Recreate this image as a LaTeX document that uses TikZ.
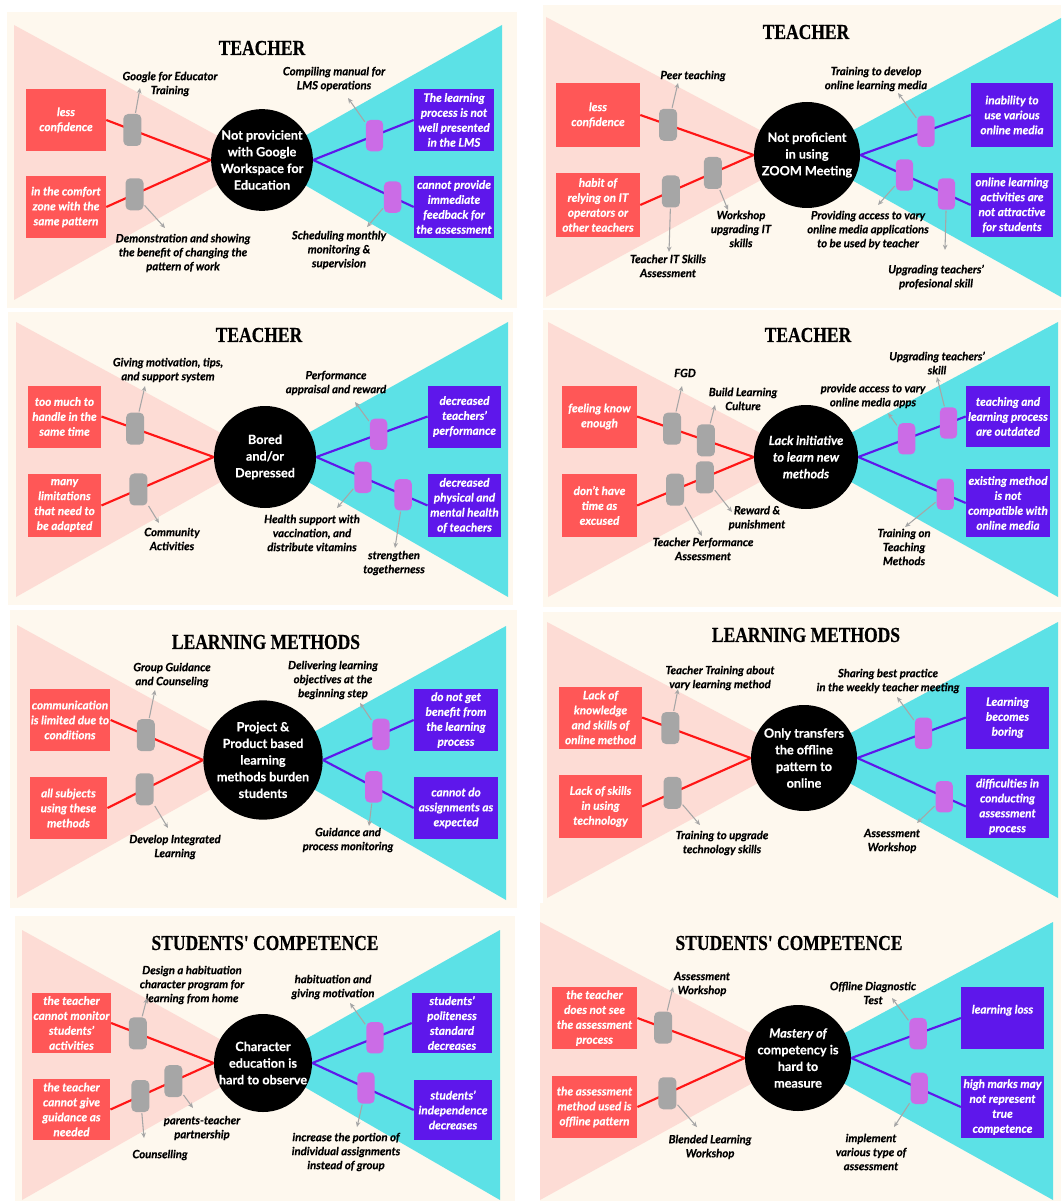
\documentclass[tikz,border=0pt]{standalone}
\usepackage{fontspec}
\setmainfont{Lato}[BoldFeatures={FakeBold=0.4}, BoldItalicFeatures={FakeBold=0.4}]
\newfontfamily\titlefont[FakeStretch=0.82, FakeBold=0.5]{Liberation Serif}
\usetikzlibrary{arrows.meta}

\definecolor{cream}{HTML}{FEF8EE}
\definecolor{pinkzone}{HTML}{FDDCD5}
\definecolor{cyanzone}{HTML}{5CE1E6}
\definecolor{causered}{HTML}{FF5757}
\definecolor{linered}{HTML}{FF1616}
\definecolor{effectviolet}{HTML}{5E17EB}
\definecolor{pillgray}{HTML}{A6A6A6}
\definecolor{pillmauve}{HTML}{CB6CE6}

\newcommand\hubtext{\fontsize{9.5}{12.5}\selectfont\bfseries}
\newcommand\boxtext{\fontsize{8.8}{11.2}\selectfont\bfseries\itshape}
\newcommand\hinttext{\fontsize{8.5}{10.5}\selectfont\bfseries\itshape}

\tikzset{
  panel/.style={fill=cream},
  causezone/.style={fill=pinkzone},
  effectzone/.style={fill=cyanzone},
  heading/.style={font=\titlefont\bfseries\fontsize{16}{18}\selectfont, inner sep=0pt},
  problem/.style={circle, fill=black, text=white, minimum size=76pt, inner sep=0pt, align=center, font=\hubtext},
  cause/.style={fill=causered, text=white, minimum width=60pt, minimum height=46.5pt, inner sep=1pt, align=center, font=\boxtext},
  effect/.style={cause, fill=effectviolet},
  causeline/.style={draw=linered, line width=1.6pt},
  effectline/.style={draw=effectviolet, line width=1.6pt},
  fixgray/.style={rectangle, rounded corners=3.5pt, fill=pillgray, minimum width=13.5pt, minimum height=24pt, inner sep=0pt},
  fixmauve/.style={fixgray, fill=pillmauve, minimum width=13pt, minimum height=23.5pt},
  remedy/.style={font=\hinttext, align=center, inner sep=1pt},
  pointer/.style={draw=pillgray, line width=0.8pt, -{Stealth[length=4pt,width=3.5pt]}},
}

\begin{document}
\begin{tikzpicture}[x=0.75pt, y=-0.75pt]
\useasboundingbox (0,0) rectangle (1061,1201);
\fill[white] (0,0) rectangle (1061,1201);

% --- panel a: teacher, Google Workspace
\fill[panel] (7,12) rectangle (517,308);
\coordinate (a-o) at (262,160);
\fill[causezone] (14,25) -- (14,300) -- (a-o) -- cycle;
\fill[effectzone] (502,25) -- (502,300) -- (a-o) -- cycle;
\node[heading] (a-title) at (262,48) {TEACHER};
\node[cause] (a-c1) at (66,120) {less\\confidence};
\node[cause] (a-c2) at (66,207) {in the comfort\\zone with the\\same pattern};
\node[effect] (a-e1) at (454,120) {The learning\\process is not\\well presented\\in the LMS};
\node[effect] (a-e2) at (454,207) {cannot provide\\immediate\\feedback for\\the assessment};
\node[problem, minimum size=75pt] (a-hub) at (a-o) {Not provicient\\with Google\\Workspace for\\Education};
\draw[causeline] (a-c1.east) -- node[fixgray, pos=0.25] (a-g1) {} (a-hub.west);
\draw[causeline] (a-c2.east) -- node[fixgray, pos=0.27] (a-g2) {} (a-hub.west);
\draw[effectline] (a-hub.east) -- node[fixmauve, pos=0.61] (a-m1) {} (a-e1.west);
\draw[effectline] (a-hub.east) -- node[fixmauve, pos=0.79] (a-m2) {} (a-e2.west);
\node[remedy] (a-l1) at (170,84) {Google for Educator\\Training};
\node[remedy] (a-l2) at (183,253) {Demonstration and showing\\the benefit of changing the\\pattern of work};
\node[remedy] (a-l3) at (334,79) {Compiling manual for\\LMS operations};
\node[remedy] (a-l4) at (339,250) {Scheduling monthly\\monitoring \&\\supervision};
\coordinate (a-t1) at (140,88);
\coordinate (a-t2) at (165,228);
\coordinate (a-t3) at (348,98);
\coordinate (a-t4) at (367,227);
\draw[pointer] (a-g1) -- (a-t1);
\draw[pointer] (a-g2) -- (a-t2);
\draw[pointer] (a-m1) -- (a-t3);
\draw[pointer] (a-m2) -- (a-t4);

% --- panel b: teacher, ZOOM
\fill[panel] (543,5) rectangle (1061,308);
\coordinate (b-o) at (807,155);
\fill[causezone] (546,17) -- (546,297) -- (b-o) -- cycle;
\fill[effectzone] (1061,18) -- (1061,297) -- (b-o) -- cycle;
\node[heading] (b-title) at (806,32) {TEACHER};
\node[cause, minimum width=63pt, minimum height=48pt] (b-c1) at (598,115) {less\\confidence};
\node[cause, minimum width=63pt, minimum height=48pt] (b-c2) at (598,205) {habit of\\relying on IT\\operators or\\other teachers};
\node[effect, minimum width=61.5pt, minimum height=48pt] (b-e1) at (1012,115) {inability to\\use various\\online media};
\node[effect, minimum width=61.5pt, minimum height=48pt] (b-e2) at (1012,205) {online learning\\activities are\\not attractive\\for students};
\node[problem, minimum size=79.5pt] (b-hub) at (b-o) {Not proficient\\in using\\ZOOM Meeting};
\draw[causeline] (b-c1.east) -- node[fixgray, pos=0.245] (b-g1) {} (b-hub.west);
\draw[causeline] (b-c2.east) -- node[fixgray, pos=0.27] (b-g2) {} node[fixgray, pos=0.64] (b-g3) {} (b-hub.west);
\draw[effectline] (b-hub.east) -- node[fixmauve, pos=0.595] (b-m1) {} (b-e1.west);
\draw[effectline] (b-hub.east) -- node[fixmauve, pos=0.4] (b-m2) {} node[fixmauve, pos=0.78] (b-m3) {} (b-e2.west);
\node[remedy] (b-l1) at (693,76) {Peer teaching};
\node[remedy] (b-l2) at (668,266) {Teacher IT Skills\\Assessment};
\node[remedy] (b-l3) at (741,229) {Workshop\\upgrading IT\\skills};
\node[remedy] (b-l4) at (876,79) {Training to develop\\online learning media};
\node[remedy] (b-l5) at (868,230) {Providing access to vary\\online media applications\\to be used by teacher};
\node[remedy] (b-l6) at (936,277) {Upgrading teachers'\\profesional skill};
\coordinate (b-t1) at (678,83);
\coordinate (b-t2) at (669,252);
\coordinate (b-t3) at (728,210);
\coordinate (b-t4) at (898,93);
\coordinate (b-t5) at (878,205);
\coordinate (b-t6) at (945,250);
\draw[pointer] (b-g1) -- (b-t1);
\draw[pointer] (b-g2) -- (b-t2);
\draw[pointer] (b-g3) -- (b-t3);
\draw[pointer] (b-m1) -- (b-t4);
\draw[pointer] (b-m2) -- (b-t5);
\draw[pointer] (b-m3) -- (b-t6);

% --- panel c: teacher, bored
\fill[panel] (8,312) rectangle (513,605);
\coordinate (c-o) at (265,457);
\fill[causezone] (16,322) -- (16,597) -- (c-o) -- cycle;
\fill[effectzone] (508,322) -- (508,597) -- (c-o) -- cycle;
\node[heading] (c-title) at (259,335) {TEACHER};
\node[cause, minimum width=55pt] (c-c1) at (64.5,416.5) {too much to\\handle in the\\same time};
\node[cause, minimum width=55pt, minimum height=47pt] (c-c2) at (64.5,505.5) {many\\limitations\\that need to\\be adapted};
\node[effect, minimum width=55pt] (c-e1) at (464.5,416.5) {decreased\\teachers'\\performance};
\node[effect, minimum width=55pt, minimum height=47pt] (c-e2) at (464.5,505.5) {decreased\\physical and\\mental health\\of teachers};
\node[problem, minimum size=76.5pt] (c-hub) at (c-o) {Bored\\and/or\\Depressed};
\draw[causeline] (c-c1.east) -- node[fixgray, pos=0.3] (c-g1) {} (c-hub.west);
\draw[causeline] (c-c2.east) -- node[fixgray, pos=0.33] (c-g2) {} (c-hub.west);
\draw[effectline] (c-hub.east) -- node[fixmauve, pos=0.56] (c-m1) {} (c-e1.west);
\draw[effectline] (c-hub.east) -- node[fixmauve, pos=0.42] (c-m2) {} node[fixmauve, pos=0.78] (c-m3) {} (c-e2.west);
\node[remedy] (c-l1) at (168,370) {Giving motivation, tips,\\and support system};
\node[remedy] (c-l2) at (172,539) {Community\\Activities};
\node[remedy] (c-l3) at (336,383) {Performance\\appraisal and reward};
\node[remedy] (c-l4) at (312,533) {Health support with\\vaccination, and\\distribute vitamins};
\node[remedy] (c-l5) at (394,563) {strengthen\\togetherness};
\coordinate (c-t1) at (145,386);
\coordinate (c-t2) at (159,523);
\coordinate (c-t3) at (355,402);
\coordinate (c-t4) at (337,508);
\coordinate (c-t5) at (395,548);
\draw[pointer] (c-g1) -- (c-t1);
\draw[pointer] (c-g2) -- (c-t2);
\draw[pointer] (c-m1) -- (c-t3);
\draw[pointer] (c-m2) -- (c-t4);
\draw[pointer] (c-m3) -- (c-t5);

% --- panel d: teacher, initiative
\fill[panel] (543,310) rectangle (1061,607);
\coordinate (d-o) at (806,457);
\fill[causezone] (548,322) -- (548,597) -- (d-o) -- cycle;
\fill[effectzone] (1058,322) -- (1058,597) -- (d-o) -- cycle;
\node[heading] (d-title) at (808,335) {TEACHER};
\node[cause, minimum width=56pt] (d-c1) at (599.5,416.5) {feeling know\\enough};
\node[cause, minimum width=56pt, minimum height=47pt] (d-c2) at (599.5,505.5) {don't have\\time as\\excused};
\node[effect, minimum width=63pt, minimum height=46pt] (d-e1) at (1008,416.5) {teaching and\\learning process\\are outdated};
\node[effect, minimum width=63pt, minimum height=51pt] (d-e2) at (1008,503) {existing method\\is not\\compatible with\\online media};
\node[problem, minimum size=78pt] (d-hub) at (d-o) {\itshape Lack initiative\\\itshape to learn new\\\itshape methods};
\draw[causeline] (d-c1.east) -- node[fixgray, pos=0.3] (d-g1) {} node[fixgray, pos=0.59] (d-g2) {} (d-hub.west);
\draw[causeline] (d-c2.east) -- node[fixgray, pos=0.325] (d-g3) {} node[fixgray, pos=0.58] (d-g4) {} (d-hub.west);
\draw[effectline] (d-hub.east) -- node[fixmauve, pos=0.45] (d-m1) {} node[fixmauve, pos=0.84] (d-m2) {} (d-e1.west);
\draw[effectline] (d-hub.east) -- node[fixmauve, pos=0.81] (d-m3) {} (d-e2.west);
\node[remedy] (d-l1) at (685,373) {FGD};
\node[remedy] (d-l2) at (743,399) {Build Learning\\Culture};
\node[remedy] (d-l3) at (757,518) {Reward \&\\punishment};
\node[remedy] (d-l4) at (703,549) {Teacher Performance\\Assessment};
\node[remedy] (d-l5) at (873,396) {provide access to vary\\online media apps};
\node[remedy] (d-l6) at (937,363) {Upgrading teachers'\\skill};
\node[remedy] (d-l7) at (904,547) {Training on\\Teaching\\Methods};
\coordinate (d-t1) at (682,386);
\coordinate (d-t2) at (715,405);
\coordinate (d-t3) at (732,512);
\coordinate (d-t4) at (702,536);
\coordinate (d-t5) at (888,413);
\coordinate (d-t6) at (937,377);
\coordinate (d-t7) at (905,527);
\draw[pointer] (d-g1) -- (d-t1);
\draw[pointer] (d-g2) -- (d-t2);
\draw[pointer] (d-g4) -- (d-t3);
\draw[pointer] (d-g3) -- (d-t4);
\draw[pointer] (d-m1) -- (d-t5);
\draw[pointer] (d-m2) -- (d-t6);
\draw[pointer] (d-m3) -- (d-t7);

% --- panel e: learning methods, project based
\fill[panel] (10,610) rectangle (517,908);
\coordinate (e-o) at (263,760);
\fill[causezone] (17,625) -- (17,898) -- (e-o) -- cycle;
\fill[effectzone] (506,626) -- (506,900) -- (e-o) -- cycle;
\node[heading] (e-title) at (266,642) {LEARNING METHODS};
\node[cause] (e-c1) at (70,720) {communication\\is limited due to\\conditions};
\node[cause, minimum width=58pt] (e-c2) at (68.5,808) {all subjects\\using these\\methods};
\node[effect, minimum width=63pt] (e-e1) at (456,720) {do not get\\benefit from\\the learning\\process};
\node[effect, minimum width=63pt] (e-e2) at (456,808) {cannot do\\assignments as\\expected};
\node[problem, minimum size=76.5pt] (e-hub) at (e-o) {Project \&\\Product based\\learning\\methods burden\\students};
\draw[causeline] (e-c1.east) -- node[fixgray, pos=0.38] (e-g1) {} (e-hub.west);
\draw[causeline] (e-c2.east) -- node[fixgray, pos=0.39] (e-g2) {} (e-hub.west);
\draw[effectline] (e-hub.east) -- node[fixmauve, pos=0.64] (e-m1) {} (e-e1.west);
\draw[effectline] (e-hub.east) -- node[fixmauve, pos=0.56] (e-m2) {} (e-e2.west);
\node[remedy] (e-l1) at (172,675) {Group Guidance\\and Counseling};
\node[remedy] (e-l2) at (175,847) {Develop Integrated\\Learning};
\node[remedy] (e-l3) at (333,680) {Delivering learning\\objectives at the\\beginning step};
\node[remedy] (e-l4) at (348,840) {Guidance and\\process monitoring};
\coordinate (e-t1) at (155,690);
\coordinate (e-t2) at (168,828);
\coordinate (e-t3) at (360,703);
\coordinate (e-t4) at (369,826);
\draw[pointer] (e-g1) -- (e-t1);
\draw[pointer] (e-g2) -- (e-t2);
\draw[pointer] (e-m1) -- (e-t3);
\draw[pointer] (e-m2) -- (e-t4);

% --- panel f: learning methods, offline pattern
\fill[panel] (543,612) rectangle (1061,903);
\coordinate (f-o) at (804,758);
\fill[causezone] (547,622) -- (547,898) -- (f-o) -- cycle;
\fill[effectzone] (1058,622) -- (1058,898) -- (f-o) -- cycle;
\node[heading] (f-title) at (806,635) {LEARNING METHODS};
\node[cause, minimum width=62pt] (f-c1) at (600.5,717.5) {Lack of\\knowledge\\and skills of\\online method};
\node[cause, minimum width=62pt, minimum height=47pt] (f-c2) at (600.5,806.5) {Lack of skills\\in using\\technology};
\node[effect, minimum width=62pt] (f-e1) at (1007.5,717.5) {Learning\\becomes\\boring};
\node[effect, minimum width=62pt, minimum height=47pt] (f-e2) at (1007.5,806.5) {difficulties in\\conducting\\assessment\\process};
\node[problem, minimum size=79.5pt] (f-hub) at (f-o) {Only transfers\\the offline\\pattern to\\online};
\draw[causeline] (f-c1.east) -- node[fixgray, pos=0.26] (f-g1) {} (f-hub.west);
\draw[causeline] (f-c2.east) -- node[fixgray, pos=0.28] (f-g2) {} (f-hub.west);
\draw[effectline] (f-hub.east) -- node[fixmauve, pos=0.61] (f-m1) {} (f-e1.west);
\draw[effectline] (f-hub.east) -- node[fixmauve, pos=0.8] (f-m2) {} (f-e2.west);
\node[remedy] (f-l1) at (720,678) {Teacher Training about\\vary learning method};
\node[remedy] (f-l2) at (722,843) {Training to upgrade\\technology skills};
\node[remedy] (f-l3) at (888,681) {Sharing best practice\\in the weekly teacher meeting};
\node[remedy] (f-l4) at (892,841) {Assessment\\Workshop};
\coordinate (f-t1) at (678,689);
\coordinate (f-t2) at (700,825);
\coordinate (f-t3) at (897,697);
\coordinate (f-t4) at (917,823);
\draw[pointer] (f-g1) -- (f-t1);
\draw[pointer] (f-g2) -- (f-t2);
\draw[pointer] (f-m1) -- (f-t3);
\draw[pointer] (f-m2) -- (f-t4);

% --- panel g: students' competence, character
\fill[panel] (15,916) rectangle (515,1201);
\coordinate (g-o) at (263,1063);
\fill[causezone] (22,930) -- (22,1200) -- (g-o) -- cycle;
\fill[effectzone] (500,930) -- (500,1200) -- (g-o) -- cycle;
\node[heading] (g-title) at (265,943) {STUDENTS' COMPETENCE};
\node[cause, minimum width=58pt, minimum height=45pt] (g-c1) at (71.5,1023) {the teacher\\cannot monitor\\students'\\activities};
\node[cause, minimum width=58pt, minimum height=45.5pt] (g-c2) at (71.5,1109.5) {the teacher\\cannot give\\guidance as\\needed};
\node[effect, minimum width=60pt, minimum height=45pt] (g-e1) at (452,1023) {students'\\politeness\\standard\\decreases};
\node[effect, minimum width=58.5pt, minimum height=45pt] (g-e2) at (453,1110) {students'\\independence\\decreases};
\node[problem, minimum size=73.5pt] (g-hub) at (g-o) {Character\\education is\\hard to observe};
\draw[causeline] (g-c1.east) -- node[fixgray, pos=0.26] (g-g1) {} (g-hub.west);
\draw[causeline] (g-c2.east) -- node[fixgray, pos=0.29] (g-g2) {} node[fixgray, pos=0.61] (g-g3) {} (g-hub.west);
\draw[effectline] (g-hub.east) -- node[fixmauve, pos=0.63] (g-m1) {} (g-e1.west);
\draw[effectline] (g-hub.east) -- node[fixmauve, pos=0.53] (g-m2) {} (g-e2.west);
\node[remedy] (g-l1) at (192,985) {Design a habituation\\character program for\\learning from home};
\node[remedy] (g-l2) at (160,1155) {Counselling};
\node[remedy] (g-l3) at (202,1128) {parents-teacher\\partnership};
\node[remedy] (g-l4) at (333,987) {habituation and\\giving motivation};
\node[remedy] (g-l5) at (346,1152) {increase the portion of\\individual assignments\\instead of group};
\coordinate (g-t1) at (147,998);
\coordinate (g-t2) at (144,1138);
\coordinate (g-t3) at (193,1108);
\coordinate (g-t4) at (350,1003);
\coordinate (g-t5) at (357,1127);
\draw[pointer] (g-g1) -- (g-t1);
\draw[pointer] (g-g2) -- (g-t2);
\draw[pointer] (g-g3) -- (g-t3);
\draw[pointer] (g-m1) -- (g-t4);
\draw[pointer] (g-m2) -- (g-t5);

% --- panel h: students' competence, mastery
\fill[panel] (540,903) rectangle (1061,1201);
\coordinate (h-o) at (798,1058);
\fill[causezone] (540,922) -- (540,1200) -- (h-o) -- cycle;
\fill[effectzone] (1053,922) -- (1053,1200) -- (h-o) -- cycle;
\node[heading] (h-title) at (789,943) {STUDENTS' COMPETENCE};
\node[cause, minimum width=64pt] (h-c1) at (594.5,1018) {the teacher\\does not see\\the assessment\\process};
\node[cause, minimum width=64pt] (h-c2) at (594.5,1107) {the assessment\\method used is\\offline pattern};
\node[effect, minimum width=62pt] (h-e1) at (1002.5,1018) {learning loss\\[2pt]};
\node[effect, minimum width=62pt] (h-e2) at (1002.5,1107) {high marks may\\not represent\\true\\competence};
\node[problem, minimum size=79.5pt] (h-hub) at (h-o) {\itshape Mastery of\\competency is\\hard to\\measure};
\draw[causeline] (h-c1.east) -- node[fixgray, pos=0.24] (h-g1) {} (h-hub.west);
\draw[causeline] (h-c2.east) -- node[fixgray, pos=0.28] (h-g2) {} (h-hub.west);
\draw[effectline] (h-hub.east) -- node[fixmauve, pos=0.61] (h-m1) {} (h-e1.west);
\draw[effectline] (h-hub.east) -- node[fixmauve, pos=0.62] (h-m2) {} (h-e2.west);
\node[remedy] (h-l1) at (702,984) {Assessment\\Workshop};
\node[remedy] (h-l2) at (710,1147) {Blended Learning\\Workshop};
\node[remedy] (h-l3) at (873,993) {Offline Diagnostic\\Test};
\node[remedy] (h-l4) at (871,1152) {implement\\various type of\\assessment};
\coordinate (h-t1) at (673,987);
\coordinate (h-t2) at (697,1127);
\coordinate (h-t3) at (892,998);
\coordinate (h-t4) at (894,1127);
\draw[pointer] (h-g1) -- (h-t1);
\draw[pointer] (h-g2) -- (h-t2);
\draw[pointer] (h-m1) -- (h-t3);
\draw[pointer] (h-m2) -- (h-t4);
\end{tikzpicture}
\end{document}
